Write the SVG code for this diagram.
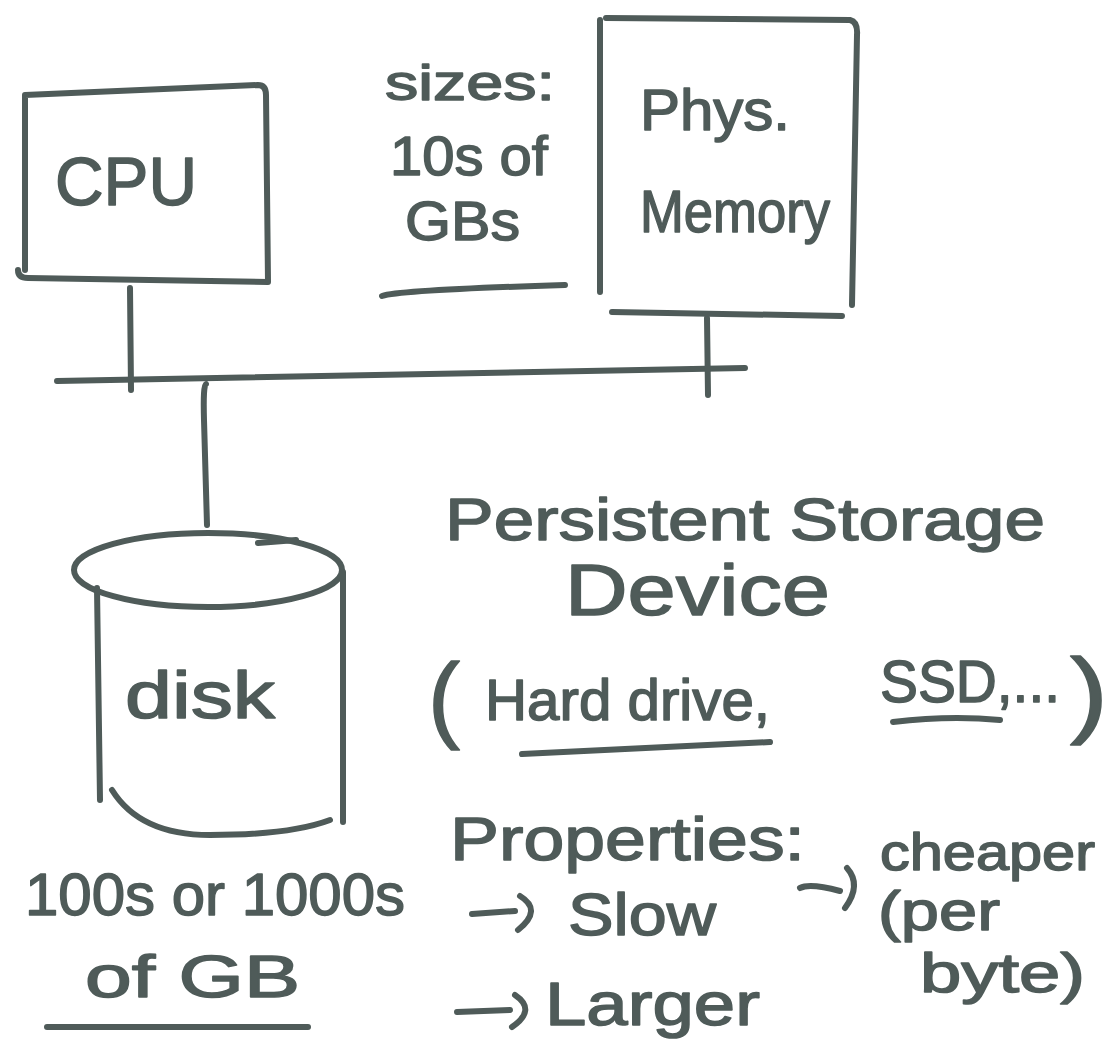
<svg xmlns="http://www.w3.org/2000/svg" width="1119" height="1057" viewBox="0 0 1119 1057">
<style>
.s{fill:none;stroke:#4f5b59;stroke-width:6;stroke-linecap:round;stroke-linejoin:round}
.t{fill:#4f5b59;stroke:#4f5b59;stroke-width:1.5;stroke-linejoin:round;font-family:"Liberation Sans",Arial,sans-serif}
</style>
<rect width="1119" height="1057" fill="#fff"/>
<g id="connectors">
<path class="s" d="M57,381 L745,368"/>
<path class="s" d="M130,288 L131,390"/>
<path class="s" d="M707,318 L708,395"/>
<path class="s" d="M206,384 Q203,385 204,420 L207,525 M258,543 L296,540"/>
</g>
<g id="cpu">
<path class="s" d="M25,95 L258,85 Q266,85 266,95 L268,282 L28,278 Q18,278 18,270 M25,95 L25,270"/>
<text class="t" x="55" y="205" font-size="68" textLength="142" lengthAdjust="spacingAndGlyphs">CPU</text>
</g>
<g id="memory">
<path class="s" d="M600,20 L600,292 M606,18 L850,20 Q858,22 857,35 L852,305 M612,312 L842,316"/>
<text class="t" x="640" y="130" font-size="58" textLength="150" lengthAdjust="spacingAndGlyphs">Phys.</text>
<text class="t" x="640" y="232" font-size="60" textLength="190" lengthAdjust="spacingAndGlyphs">Memory</text>
</g>
<g id="sizes">
<text class="t" x="385" y="100" font-size="50" textLength="170" lengthAdjust="spacingAndGlyphs">sizes:</text>
<text class="t" x="390" y="175" font-size="56" textLength="158" lengthAdjust="spacingAndGlyphs">10s of</text>
<text class="t" x="405" y="240" font-size="56" textLength="115" lengthAdjust="spacingAndGlyphs">GBs</text>
<path class="s" d="M382,296 Q400,290 565,285"/>
</g>
<g id="disk">
<ellipse class="s" cx="208" cy="570" rx="134" ry="37"/>
<path class="s" d="M97,588 L100,800 M343,572 L343,822 M112,790 Q140,835 210,835 Q290,835 330,820"/>
<text class="t" x="125" y="718" font-size="66" textLength="150" lengthAdjust="spacingAndGlyphs">disk</text>
<text class="t" x="25" y="915" font-size="60" textLength="380" lengthAdjust="spacingAndGlyphs">100s or 1000s</text>
<text class="t" x="85" y="997" font-size="60" textLength="215" lengthAdjust="spacingAndGlyphs">of GB</text>
<path class="s" d="M47,1027 L308,1027"/>
</g>
<g id="storage">
<text class="t" x="445" y="540" font-size="60" textLength="600" lengthAdjust="spacingAndGlyphs">Persistent Storage</text>
<text class="t" x="565" y="615" font-size="72" textLength="265" lengthAdjust="spacingAndGlyphs">Device</text>
<text class="t" x="428" y="730" font-size="95" textLength="32" lengthAdjust="spacingAndGlyphs">(</text>
<text class="t" x="485" y="720" font-size="58" textLength="285" lengthAdjust="spacingAndGlyphs">Hard drive,</text>
<text class="t" x="880" y="702" font-size="60" textLength="180" lengthAdjust="spacingAndGlyphs">SSD,...</text>
<text class="t" x="1070" y="725" font-size="95" textLength="38" lengthAdjust="spacingAndGlyphs">)</text>
<path class="s" d="M522,754 L770,742 M893,722 Q950,715 1000,720"/>
</g>
<g id="properties">
<text class="t" x="450" y="860" font-size="62" textLength="355" lengthAdjust="spacingAndGlyphs">Properties:</text>
<path class="s" d="M472,914 L515,911 M520,896 Q543,910 518,930"/>
<text class="t" x="568" y="935" font-size="60" textLength="148" lengthAdjust="spacingAndGlyphs">Slow</text>
<path class="s" d="M457,1012 L510,1010 M515,995 Q537,1010 512,1027"/>
<text class="t" x="545" y="1025" font-size="62" textLength="215" lengthAdjust="spacingAndGlyphs">Larger</text>
<path class="s" d="M800,888 Q810,883 840,891 M847,868 Q862,885 845,908"/>
<text class="t" x="880" y="870" font-size="52" textLength="215" lengthAdjust="spacingAndGlyphs">cheaper</text>
<text class="t" x="878" y="930" font-size="56" textLength="122" lengthAdjust="spacingAndGlyphs">(per</text>
<text class="t" x="920" y="992" font-size="56" textLength="165" lengthAdjust="spacingAndGlyphs">byte)</text>
</g>
</svg>
